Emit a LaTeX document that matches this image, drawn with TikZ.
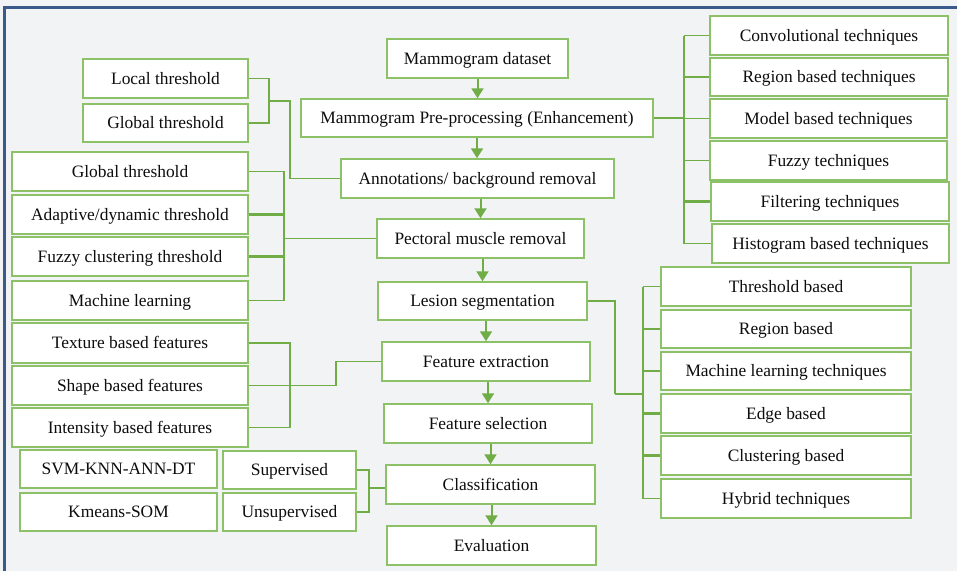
\documentclass[tikz,border=0pt]{standalone}
\usepackage{fontspec}
\setmainfont{Liberation Serif}
\usetikzlibrary{arrows.meta,calc}
\definecolor{gline}{HTML}{70AD47}
\definecolor{gbox}{HTML}{8CC168}
\definecolor{bgc}{HTML}{F2F3F5}
\definecolor{framec}{HTML}{3A5A8C}
\newcommand{\bx}[6]{\node[box,minimum width={#4-#2},minimum height={#5-#3}] (#1) at ({(#2+#4)/2},{(#3+#5)/2}) {#6};}
\tikzset{
  box/.style={draw=gbox, line width=1.5pt, fill=white, inner sep=0pt,
    text height=15.6pt, text depth=4pt,
    font=\fontsize{17.4}{20}\selectfont, text=black!95},
  conn/.style={draw=gline, line width=1.3pt},
  tconn/.style={draw=gline, line width=2.3pt},
  arr/.style={draw=gline, line width=2pt, -{Triangle[width=12pt,length=10pt]}}
}
\begin{document}
\begin{tikzpicture}[x=1pt,y=-1pt]
\useasboundingbox (0,0) rectangle (957,571);
\fill[bgc] (0,0) rectangle (957,571);
\draw[framec, line width=2.6pt] (4.5,571) -- (4.5,7.5) -- (957,7.5);

% central column
\bx{ds}{387}{39}{568}{78}{Mammogram dataset}
\bx{pre}{301}{99}{653}{137}{Mammogram Pre-processing (Enhancement)}
\bx{ann}{341}{159}{614}{198}{Annotations/ background removal}
\bx{pec}{377}{219}{584}{258}{Pectoral muscle removal}
\bx{les}{378}{282}{587}{320}{Lesion segmentation}
\bx{fex}{382}{342}{590}{381}{Feature extraction}
\bx{fsel}{384}{404}{592}{443}{Feature selection}
\bx{cls}{386}{465}{595}{504}{Classification}
\bx{eva}{387}{526}{596}{565}{Evaluation}

% right top
\bx{c1}{710}{16}{948}{55}{Convolutional techniques}
\bx{c2}{710}{58}{948}{96}{Region based techniques}
\bx{c3}{710}{99}{947}{138}{Model based techniques}
\bx{c4}{710}{141}{947}{180}{Fuzzy techniques}
\bx{c5}{711}{182}{949}{221}{Filtering techniques}
\bx{c6}{712}{224}{949}{263}{Histogram based techniques}

% left top
\bx{lt}{83}{59}{248}{98}{Local threshold}
\bx{gt}{83}{104}{248}{142}{Global threshold}

% left 2
\bx{gtwo}{12}{152}{248}{191}{Global threshold}
\bx{ad}{12}{195}{248}{234}{Adaptive/dynamic threshold}
\bx{fz}{12}{237}{248}{276}{Fuzzy clustering threshold}
\bx{ml}{12}{281}{248}{320}{Machine learning}

% left 3
\bx{tx}{12}{323}{248}{363}{Texture based features}
\bx{sh}{12}{366}{248}{405}{Shape based features}
\bx{inf}{12}{408}{248}{447}{Intensity based features}

% left 4
\bx{svm}{20}{450}{217}{488}{SVM-KNN-ANN-DT}
\bx{km}{20}{493}{217}{531}{Kmeans-SOM}
\bx{sup}{223}{451}{356}{489}{Supervised}
\bx{uns}{223}{493}{356}{531}{Unsupervised}

% right bottom
\bx{tb}{661}{267}{911}{306}{Threshold based}
\bx{rb}{661}{310}{911}{348}{Region based}
\bx{mlt}{661}{352}{911}{390}{Machine learning techniques}
\bx{eb}{661}{394}{911}{433}{Edge based}
\bx{cb}{661}{436}{911}{475}{Clustering based}
\bx{hy}{661}{479}{911}{518}{Hybrid techniques}

% arrows
\draw[arr] (ds.south) -- (ds.south |- pre.north);
\draw[arr] (pre.south) -- (pre.south |- ann.north);
\draw[arr] (pec.north |- ann.south) -- (pec.north);
\draw[arr] (les.north |- pec.south) -- (les.north);
\draw[arr] (fex.north |- les.south) -- (fex.north);
\draw[arr] (fsel.north |- fex.south) -- (fsel.north);
\draw[arr] (cls.north |- fsel.south) -- (cls.north);
\draw[arr] (eva.north |- cls.south) -- (eva.north);

% right top bracket
\coordinate (rt) at (684,0);
\draw[conn] (rt |- c1.west) -- (rt |- c6.west);
\draw[conn] (c1.west) -- (c1.west -| rt);
\draw[tconn] (c2.west) -- (c2.west -| rt);
\draw[conn] (c3.west) -- (c3.west -| rt);
\draw[conn] (c4.west) -- (c4.west -| rt);
\draw[tconn] (c5.west) -- (c5.west -| rt);
\draw[conn] (c6.west) -- (c6.west -| rt);
\draw[tconn] (pre.east) -- (pre.east -| rt);

% left top bracket
\coordinate (bone) at (269,101);
\coordinate (bonex) at (290,101);
\draw[conn] (lt.east) -| (bone) |- (gt.east);
\draw[conn] (bone) -- (bonex) |- (ann.west);

% left 2 bracket
\coordinate (btwo) at (284,238.5);
\draw[conn] (gtwo.east) -| (btwo) |- (ml.east);
\draw[tconn] (ad.east) -- (ad.east -| btwo);
\draw[tconn] (fz.east) -- (fz.east -| btwo);
\draw[conn] (btwo) -- (pec.west);

% left 3 bracket
\coordinate (bthree) at (290,385);
\coordinate (bshape) at (336,385.5);
\draw[conn] (tx.east) -| (bthree) |- (inf.east);
\draw[conn] (sh.east) -- (bshape) |- (fex.west);

% left 4 bracket
\coordinate (bfour) at (369,488);
\draw[conn] (sup.east) -| (bfour) |- (uns.east);
\draw[conn] (bfour) -- (bfour -| cls.west);

% right bottom bracket
\coordinate (rbx) at (643,0);
\coordinate (lsk) at (615,394);
\draw[conn] (rbx |- tb.west) -- (rbx |- hy.west);
\draw[conn] (tb.west) -- (tb.west -| rbx);
\draw[tconn] (rb.west) -- (rb.west -| rbx);
\draw[tconn] (mlt.west) -- (mlt.west -| rbx);
\draw[tconn] (eb.west) -- (eb.west -| rbx);
\draw[tconn] (cb.west) -- (cb.west -| rbx);
\draw[conn] (hy.west) -- (hy.west -| rbx);
\draw[conn] (les.east) -| (lsk);
\draw[tconn] (lsk) -- (lsk -| rbx);
\end{tikzpicture}
\end{document}
